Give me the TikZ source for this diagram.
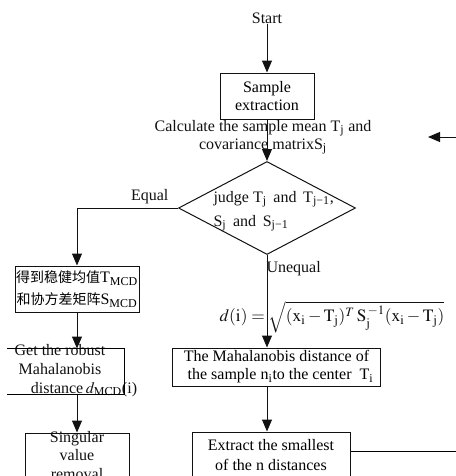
\documentclass[tikz,border=0pt]{standalone}
\usepackage{mathptmx}
\usepackage{fontspec}
\setmainfont{Liberation Serif}
\newfontfamily\cjk{Noto Sans CJK SC}
\newcommand{\zh}[1]{{\cjk\fontsize{10.5}{16.5}\selectfont #1}}
\usepackage{xcolor}
\definecolor{ink}{HTML}{111111}
\usetikzlibrary{arrows.meta,positioning,calc,shapes.geometric}
\tikzset{
  every picture/.style={font=\fontsize{12}{13.5}\selectfont, line width=0.75pt},
  box/.style={draw=ink, inner sep=0pt, align=center, minimum width=#1, minimum height=34.5pt},
  box/.default=70.5pt,
  judgebox/.style={draw=ink, diamond, inner sep=0pt, minimum width=132.75pt, minimum height=69.75pt},
  ghost/.style={inner sep=0pt, minimum width=#1, minimum height=33.75pt},
  arrow/.style={-{Triangle[length=9pt,width=7.5pt]}, draw=ink},
  note/.style={align=center, text=ink, inner sep=0pt},
}

\begin{document}
\begin{tikzpicture}[x=0.75pt, y=-0.75pt]
  \useasboundingbox (0,0) rectangle (456,476);
  \clip (0,0) rectangle (456,476);
  % main column
  \node[note] (start) at (267,18) {Start};
  \node[box] (sample) at (267,96) {Sample\\extraction};
  \node[note] (calc) at (263,137) {Calculate the sample mean T\textsubscript{j} and\\covariance matrixS\textsubscript{j}};
  \node[judgebox] (judge) at (267,208) {};
  \node[note, align=left, anchor=west] (judgetext) at (213,211)
    {judge T\textsubscript{j}\, and\, T\textsubscript{j−1},\\[4.5pt]S\textsubscript{j}\, and\, S\textsubscript{j−1}};
  \node[note, anchor=west] (unequal) at ([xshift=-0.75pt,yshift=-10.5pt]judge.south) {Unequal};
  \node[note, font=\fontsize{13}{15}\selectfont] (formula) at (332,317)
    {$d(\mathrm{i})=\sqrt{(\mathrm{x}_\mathrm{i}-\mathrm{T}_\mathrm{j})^T\,\mathrm{S}_\mathrm{j}^{\,-1}(\mathrm{x}_\mathrm{i}-\mathrm{T}_\mathrm{j})}$};
  \node[box=156pt, minimum height=28.5pt] (mahal) at (276.5,367)
    {The Mahalanobis distance of\\\hspace*{6pt}the sample n\textsubscript{i}to the center~~T\textsubscript{i}};
  \node[box=118.5pt] (extract) at (271,455) {Extract the smallest\\[2pt]of the n distances};
  % left column
  \node[box=93pt] (robust) at (77,289)
    {\zh{得到稳健均值}T\textsubscript{MCD}\\[3pt]\zh{和协方差矩阵}S\textsubscript{MCD}};
  \node[ghost=87.75pt] (dmcd) at (65.5,371.5) {};
  \node[note] (dmcdtext) at (60,370.5)
    {Get the robust\\[0.5pt]Mahalanobis\\[0.5pt]\hspace*{36pt}distance\,$d_{\mathrm{MCD}}$(i)};
  \node[box=78pt] (singular) at (77,456) {};
  \node[note] (singulartext) at (77,455.5) {Singular\\[0.5pt]value\\[0.5pt]removal};
  % loop ends
  \coordinate (loopin) at (462,137);
  \coordinate (loopend) at (428,137);
  \coordinate (loopout) at (462,451);
  % connectors
  \draw[arrow] (start) -- (sample);
  \draw[arrow] (sample) -- (judge);
  \draw[arrow] (judge.west) -| node[note, pos=0.14, above=3pt] (equal) {Equal} (robust.north);
  \draw[arrow] (judge.south) -- (judge.south |- mahal.north);
  \draw[arrow] (judge.south |- mahal.south) -- (judge.south |- extract.north);
  \draw[arrow] (robust) -- (robust |- dmcd.north);
  \draw (dmcd.north west) -- (dmcd.north east) -- (dmcd.south east) -- (dmcd.south west);
  \draw[arrow] (robust |- dmcd.south) -- (singular);
  \draw[arrow] (loopin) -- (loopend);
  \draw (extract.east |- loopout) -- (loopout);
\end{tikzpicture}
\end{document}
